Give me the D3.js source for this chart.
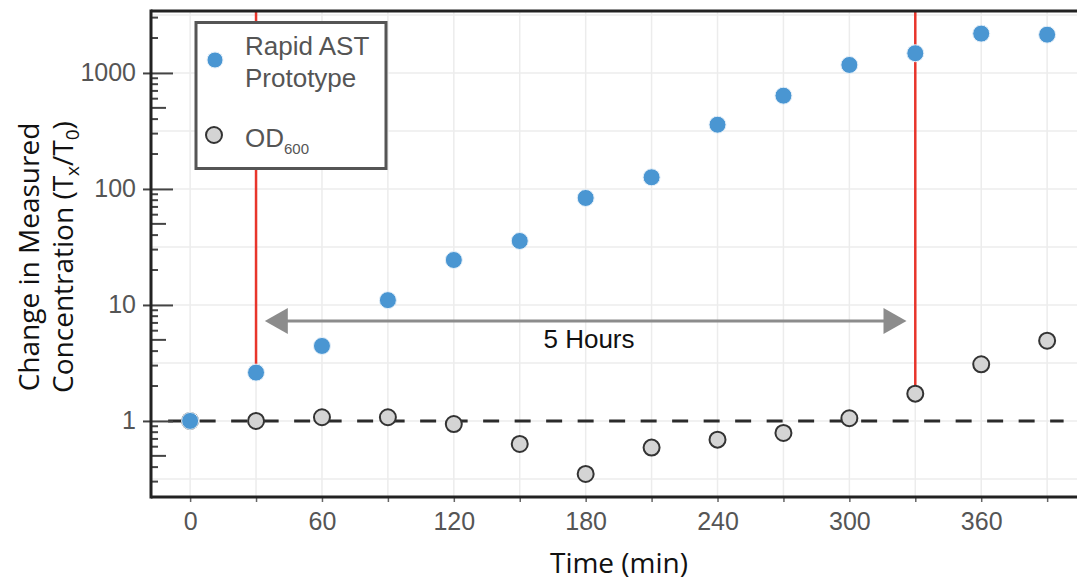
<!DOCTYPE html>
<html>
<head>
<meta charset="utf-8">
<script src="https://cdn.jsdelivr.net/npm/d3@7"></script>
<style>
  html, body { margin: 0; padding: 0; background: #fff; }
  svg { display: block; }
</style>
</head>
<body>
<div class="chart"></div>
<script>
// Data
const times = [0, 30, 60, 90, 120, 150, 180, 210, 240, 270, 300, 330, 360, 390];
const rapidAst = [1.0, 2.61, 4.43, 11.0, 24.4, 35.6, 83.6, 126, 358, 637, 1172, 1479, 2183, 2138];
const od600 = [1.0, 1.0, 1.076, 1.076, 0.94, 0.633, 0.349, 0.589, 0.69, 0.788, 1.055, 1.72, 3.08, 4.92];
const xTickLabels = [0, 60, 120, 180, 240, 300, 360];
const yTickLabels = [1, 10, 100, 1000];
const markerTimes = [30, 330]; // red guide lines
const arrowSpan = [34, 326];
const arrowLevel = 7.28;
const baselineValue = 1;

const w = 1077;
const h = 582;
const padLeft = 151, padTop = 11, padBottom = 497, padRight = 1079;

const svg = d3.select('.chart').append('svg').attr('width', w).attr('height', h);

const xScale = d3.scaleLinear().domain([-17.8, 404.5]).range([padLeft, padRight]);
const yScale = d3.scaleLog().domain([0.221, 3420]).range([padBottom, padTop]);

// Grid
const grid = svg.append('g').attr('class', 'grid');
grid.selectAll('line.vx')
  .data(d3.range(0, 391, 30))
  .enter().append('line')
  .attr('x1', (d) => xScale(d)).attr('x2', (d) => xScale(d))
  .attr('y1', padTop).attr('y2', padBottom)
  .attr('stroke', '#ececec').attr('stroke-width', 1.5);
grid.selectAll('line.hy')
  .data(d3.range(-1, 8).map((k) => Math.pow(10, k / 2)))
  .enter().append('line')
  .attr('x1', padLeft).attr('x2', w)
  .attr('y1', (d) => yScale(d)).attr('y2', (d) => yScale(d))
  .attr('stroke', '#ececec').attr('stroke-width', 1.5);

// Red guide lines
const idxOf = (t) => times.indexOf(t);
svg.append('line')
  .attr('x1', xScale(markerTimes[0])).attr('x2', xScale(markerTimes[0]))
  .attr('y1', padTop).attr('y2', yScale(rapidAst[idxOf(markerTimes[0])]))
  .attr('stroke', '#e8352b').attr('stroke-width', 2.5);
svg.append('line')
  .attr('x1', xScale(markerTimes[1])).attr('x2', xScale(markerTimes[1]))
  .attr('y1', padTop).attr('y2', yScale(od600[idxOf(markerTimes[1])]))
  .attr('stroke', '#e8352b').attr('stroke-width', 2.5);

// Dashed baseline
svg.append('line')
  .attr('x1', xScale(-10)).attr('x2', xScale(397.5))
  .attr('y1', yScale(baselineValue)).attr('y2', yScale(baselineValue))
  .attr('stroke', '#2b2b2b').attr('stroke-width', 3)
  .attr('stroke-dasharray', '16,15.5');

// Arrow
const ay = yScale(arrowLevel);
const ax1 = xScale(arrowSpan[0]), ax2 = xScale(arrowSpan[1]);
svg.append('line')
  .attr('x1', ax1 + 20).attr('x2', ax2 - 20)
  .attr('y1', ay).attr('y2', ay)
  .attr('stroke', '#8c8c8c').attr('stroke-width', 3);
svg.append('path')
  .attr('d', `M${ax1},${ay} L${ax1 + 23},${ay - 13} L${ax1 + 23},${ay + 13} Z`)
  .attr('fill', '#8c8c8c');
svg.append('path')
  .attr('d', `M${ax2},${ay} L${ax2 - 23},${ay - 13} L${ax2 - 23},${ay + 13} Z`)
  .attr('fill', '#8c8c8c');
svg.append('text')
  .attr('x', 589).attr('y', ay + 27)
  .attr('text-anchor', 'middle')
  .style('font-family', '"Liberation Sans", Arial, sans-serif')
  .style('font-size', '26px')
  .style('fill', '#111')
  .text('5 Hours');

// Points: OD600 underneath, Rapid AST on top
svg.selectAll('circle.od')
  .data(times)
  .enter().append('circle')
  .attr('class', 'od')
  .attr('cx', (d) => xScale(d))
  .attr('cy', (d, i) => yScale(od600[i]))
  .attr('r', 8)
  .attr('fill', '#d4d4d4').attr('stroke', '#333').attr('stroke-width', 2);
svg.selectAll('circle.ast')
  .data(times)
  .enter().append('circle')
  .attr('class', 'ast')
  .attr('cx', (d) => xScale(d))
  .attr('cy', (d, i) => yScale(rapidAst[i]))
  .attr('r', 8.5)
  .attr('fill', '#4a96d2').attr('stroke', '#e6f0f9').attr('stroke-width', 1);

// Y axis (major ticks cross the axis line)
const yAxis = d3.axisLeft(yScale)
  .tickValues(yTickLabels)
  .tickFormat(d3.format('d'))
  .tickSize(8)
  .tickPadding(7);
const yAxisG = svg.append('g').attr('transform', `translate(${padLeft},0)`).call(yAxis);
yAxisG.select('.domain').remove();
yAxisG.selectAll('.tick line').attr('x2', 22).attr('x1', -8).attr('stroke', '#444').attr('stroke-width', 2);
yAxisG.selectAll('.tick text')
  .style('font-family', '"Liberation Sans", Arial, sans-serif')
  .style('font-size', '25px')
  .style('fill', '#555');

// Minor y ticks
const minorY = [];
[0.1, 1, 10, 100, 1000].forEach((dec) => {
  for (let m = 2; m <= 9; m++) {
    const v = dec * m;
    if (v >= 0.221 && v <= 3420) minorY.push({ v: v, m: m });
  }
});
svg.selectAll('line.ym')
  .data(minorY)
  .enter().append('line')
  .attr('x1', padLeft).attr('x2', (d) => (d.m === 5 ? padLeft + 15 : padLeft + 7))
  .attr('y1', (d) => yScale(d.v)).attr('y2', (d) => yScale(d.v))
  .attr('stroke', '#444').attr('stroke-width', 2);

// X axis
const xAxis = d3.axisBottom(xScale)
  .tickValues(d3.range(0, 391, 30))
  .tickFormat((d) => (xTickLabels.includes(d) ? d : ''))
  .tickSize(5)
  .tickPadding(10);
const xAxisG = svg.append('g').attr('transform', `translate(0,${padBottom})`).call(xAxis);
xAxisG.select('.domain').remove();
xAxisG.selectAll('.tick line').attr('stroke', '#666').attr('stroke-width', 1.5);
xAxisG.selectAll('.tick text')
  .style('font-family', '"Liberation Sans", Arial, sans-serif')
  .style('font-size', '25px')
  .style('fill', '#555');

// Frame
svg.append('line').attr('x1', padLeft).attr('x2', padLeft).attr('y1', padTop - 1.5).attr('y2', padBottom + 1.5)
  .attr('stroke', '#222').attr('stroke-width', 3);
svg.append('line').attr('x1', padLeft).attr('x2', w).attr('y1', padTop).attr('y2', padTop)
  .attr('stroke', '#222').attr('stroke-width', 3);
svg.append('line').attr('x1', padLeft).attr('x2', w).attr('y1', padBottom).attr('y2', padBottom)
  .attr('stroke', '#222').attr('stroke-width', 3);

// Axis titles
svg.append('text')
  .attr('x', 619).attr('y', 573)
  .attr('text-anchor', 'middle')
  .style('font-family', '"Open Sans", sans-serif')
  .style('font-size', '28px')
  .style('fill', '#111')
  .text('Time (min)');

const yTitle = svg.append('g').attr('transform', 'rotate(-90)')
  .style('font-family', '"Open Sans", sans-serif')
  .style('font-size', '28px')
  .style('fill', '#111');
yTitle.append('text')
  .attr('x', -257).attr('y', 39)
  .attr('text-anchor', 'middle')
  .text('Change in Measured');
const t2 = yTitle.append('text')
  .attr('x', -257).attr('y', 73)
  .attr('text-anchor', 'middle');
t2.append('tspan').text('Concentration (T');
t2.append('tspan').attr('dy', 6).style('font-size', '19px').text('x');
t2.append('tspan').attr('dy', -6).text('/T');
t2.append('tspan').attr('dy', 6).style('font-size', '19px').text('0');
t2.append('tspan').attr('dy', -6).text(')');

// Legend
const legend = svg.append('g').attr('id', 'legend');
legend.append('rect')
  .attr('x', 196).attr('y', 22.5).attr('width', 190).attr('height', 146)
  .attr('fill', '#fff').attr('stroke', '#555').attr('stroke-width', 3);
legend.append('circle').attr('cx', 215).attr('cy', 60).attr('r', 8)
  .attr('fill', '#4a96d2').attr('stroke', '#e6f0f9').attr('stroke-width', 1);
legend.append('circle').attr('cx', 214).attr('cy', 135).attr('r', 8)
  .attr('fill', '#d4d4d4').attr('stroke', '#333').attr('stroke-width', 2);
const legText = legend.append('g')
  .style('font-family', '"Liberation Sans", Arial, sans-serif')
  .style('font-size', '26px')
  .style('fill', '#555');
legText.append('text').attr('x', 245).attr('y', 55).text('Rapid AST');
legText.append('text').attr('x', 245).attr('y', 87).text('Prototype');
const odText = legText.append('text').attr('x', 245).attr('y', 147);
odText.append('tspan').text('OD');
odText.append('tspan').attr('dy', 7).style('font-size', '15px').text('600');
</script>
</body>
</html>
